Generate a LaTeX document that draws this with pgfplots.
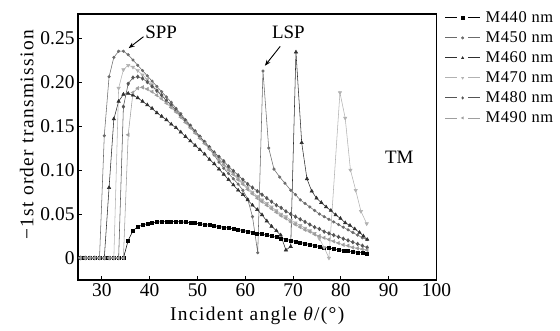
\documentclass[border=0pt]{standalone}
\usepackage{pgfplots}
\pgfplotsset{compat=1.18}
\usepackage{pgfplotstable}
\usepackage{fontspec}
\setmainfont{Liberation Serif}
\newfontfamily\lsfont[LetterSpace=7]{Liberation Serif}
\newfontfamily\legfont[LetterSpace=4]{Liberation Serif}
\usetikzlibrary{arrows.meta}
\definecolor{cA}{gray}{0.0}
\definecolor{cB}{gray}{0.42}
\definecolor{cC}{gray}{0.18}
\definecolor{cD}{gray}{0.70}
\definecolor{cE}{gray}{0.33}
\definecolor{cF}{gray}{0.62}

\pgfplotstableread{
x y
25.5 0
26.5 0
27.5 0
28.5 0
29.5 0
30.5 0
31.5 0
32.5 0
33.5 0
34.5 0
35.5 0.020
36.5 0.031
37.5 0.0355
38.5 0.0375
39.5 0.039
40.5 0.040
41.5 0.0408
42.5 0.0412
43.5 0.0414
44.5 0.0415
45.5 0.0414
46.5 0.0411
47.5 0.0407
48.5 0.0402
49.5 0.0396
50.5 0.0389
51.5 0.0381
52.5 0.0373
53.5 0.0365
54.5 0.0357
55.5 0.0349
56.5 0.0340
57.5 0.0331
58.5 0.0322
59.5 0.0312
60.5 0.0302
61.5 0.0292
62.5 0.0281
63.5 0.0270
64.5 0.0259
65.5 0.0248
66.5 0.0236
67.5 0.0224
68.5 0.0212
69.5 0.0200
70.5 0.0188
71.5 0.0176
72.5 0.0164
73.5 0.0153
74.5 0.0142
75.5 0.0131
76.5 0.0121
77.5 0.0112
78.5 0.0103
79.5 0.0095
80.5 0.0087
81.5 0.0079
82.5 0.0072
83.5 0.0065
84.5 0.0058
85.5 0.0050
}\tA

\pgfplotstableread{
x y
25.5 0
26.5 0
27.5 0
28.5 0
29.5 0
30.5 0.139
31.5 0.206
32.5 0.228
33.5 0.235
34.5 0.235
35.5 0.231
36.5 0.225
37.5 0.219
38.5 0.213
39.5 0.207
40.5 0.201
41.5 0.195
42.5 0.189
43.5 0.183
44.5 0.177
45.5 0.170
46.5 0.164
47.5 0.157
48.5 0.151
49.5 0.144
50.5 0.138
51.5 0.131
52.5 0.124
53.5 0.117
54.5 0.109
55.5 0.102
56.5 0.096
57.5 0.090
58.5 0.084
59.5 0.077
60.5 0.067
61.5 0.047
62.6 0.006
63.7 0.2125
64.9 0.125
66.0 0.101
67.2 0.092
68.3 0.085
69.5 0.077
70.5 0.072
71.5 0.066
72.5 0.062
73.5 0.058
74.5 0.054
75.5 0.050
76.5 0.047
77.5 0.044
78.5 0.041
79.5 0.038
80.5 0.035
81.5 0.032
82.5 0.029
83.5 0.026
84.5 0.023
85.5 0.021
}\tB

\pgfplotstableread{
x y
25.5 0
26.5 0
27.5 0
28.5 0
29.5 0
30.5 0
31.5 0.080
32.5 0.158
33.5 0.178
34.5 0.186
35.5 0.187
36.5 0.185
37.5 0.182
38.5 0.178
39.5 0.174
40.5 0.170
41.5 0.165
42.5 0.161
43.5 0.157
44.5 0.152
45.5 0.148
46.5 0.143
47.5 0.138
48.5 0.133
49.5 0.128
50.5 0.123
51.5 0.118
52.5 0.112
53.5 0.107
54.5 0.101
55.5 0.095
56.5 0.089
57.5 0.083
58.5 0.077
59.5 0.072
60.5 0.066
61.5 0.060
62.5 0.055
63.5 0.049
64.5 0.042
65.5 0.036
66.5 0.031
67.4 0.026
68.5 0.009
69.5 0.013
70.6 0.234
71.8 0.131
72.9 0.090
73.9 0.076
74.9 0.068
75.9 0.063
76.9 0.058
77.9 0.054
78.9 0.049
79.9 0.045
80.9 0.040
81.9 0.037
82.9 0.033
83.9 0.029
84.7 0.025
85.5 0.021
}\tC

\pgfplotstableread{
x y
25.5 0
26.5 0
27.5 0
28.5 0
29.5 0
30.5 0
31.5 0
32.5 0
33.5 0.193
34.5 0.214
35.5 0.219
36.5 0.217
37.5 0.213
38.5 0.208
39.5 0.203
40.5 0.197
41.5 0.191
42.5 0.185
43.5 0.179
44.5 0.173
45.5 0.167
46.5 0.161
47.5 0.155
48.5 0.149
49.5 0.143
50.5 0.137
51.5 0.131
52.5 0.125
53.5 0.119
54.5 0.113
55.5 0.107
56.5 0.102
57.5 0.096
58.5 0.091
59.5 0.085
60.5 0.080
61.5 0.075
62.5 0.070
63.5 0.066
64.5 0.062
65.5 0.058
66.5 0.054
67.5 0.050
68.5 0.047
69.5 0.043
70.5 0.040
71.5 0.037
72.5 0.034
73.5 0.031
74.5 0.028
75.5 0.022
76.5 0.012
77.5 0.000
79.8 0.188
80.9 0.159
82.0 0.100
83.1 0.077
84.2 0.053
85.4 0.039
}\tD

\pgfplotstableread{
x y
25.5 0
26.5 0
27.5 0
28.5 0
29.5 0
30.5 0
31.5 0
32.5 0
33.5 0
34.5 0.172
35.5 0.198
36.5 0.205
37.5 0.206
38.5 0.204
39.5 0.200
40.5 0.195
41.5 0.190
42.5 0.185
43.5 0.179
44.5 0.174
45.5 0.168
46.5 0.162
47.5 0.156
48.5 0.150
49.5 0.144
50.5 0.138
51.5 0.132
52.5 0.126
53.5 0.120
54.5 0.115
55.5 0.110
56.5 0.104
57.5 0.099
58.5 0.094
59.5 0.089
60.5 0.084
61.5 0.080
62.5 0.076
63.5 0.072
64.5 0.068
65.5 0.064
66.5 0.060
67.5 0.057
68.5 0.053
69.5 0.050
70.5 0.047
71.5 0.044
72.5 0.041
73.5 0.038
74.5 0.035
75.5 0.033
76.5 0.030
77.5 0.028
78.5 0.026
79.5 0.024
80.5 0.022
81.5 0.020
82.5 0.018
83.5 0.016
84.5 0.014
85.5 0.012
}\tE

\pgfplotstableread{
x y
25.5 0
26.5 0
27.5 0
28.5 0
29.5 0
30.5 0
31.5 0
32.5 0
33.5 0
34.5 0
35.5 0.140
36.5 0.188
37.5 0.193
38.5 0.194
39.5 0.192
40.5 0.189
41.5 0.185
42.5 0.181
43.5 0.176
44.5 0.171
45.5 0.166
46.5 0.160
47.5 0.154
48.5 0.148
49.5 0.142
50.5 0.136
51.5 0.130
52.5 0.124
53.5 0.118
54.5 0.112
55.5 0.106
56.5 0.100
57.5 0.095
58.5 0.089
59.5 0.084
60.5 0.078
61.5 0.073
62.5 0.068
63.5 0.064
64.5 0.060
65.5 0.056
66.5 0.052
67.5 0.048
68.5 0.045
69.5 0.041
70.5 0.038
71.5 0.035
72.5 0.032
73.5 0.030
74.5 0.027
75.5 0.025
76.5 0.023
77.5 0.021
78.5 0.019
79.5 0.017
80.5 0.015
81.5 0.014
82.5 0.012
83.5 0.011
84.5 0.010
85.5 0.009
}\tF

\pgfplotsset{
  mylegend/.style={legend image code/.code={
    \draw[##1,mark=none,line width=0.9bp] (0bp,0bp) -- (12bp,0bp) (23bp,0bp) -- (35bp,0bp);
    \draw[##1,only marks,mark size=1.2bp] plot coordinates {(17.5bp,0bp)};
  }},
}

\begin{document}
\begin{tikzpicture}
\useasboundingbox (-78bp,-51bp) rectangle (482bp,280bp);
\begin{axis}[
  scale only axis,
  width=358.5bp, height=266bp,
  xmin=25, xmax=100,
  ymin=-0.025, ymax=0.2773,
  xtick={30,40,50,60,70,80,90,100},
  ytick={0,0.05,0.10,0.15,0.20,0.25},
  yticklabels={0,0.05,0.10,0.15,0.20,0.25},
  xtick pos=left, ytick pos=left,
  tick align=inside,
  major tick length=4bp,
  tick style={black, line width=0.8bp},
  axis line style={line width=1.2bp},
  /pgf/number format/assume math mode=true,
  ticklabel style={font=\fontsize{19.5}{22}\selectfont},
  label style={font=\fontsize{19.5}{22}\selectfont},
  xlabel={\lsfont Incident angle \textit{θ}/(°)},
  ylabel={\lsfont −1st order transmission},
  xlabel style={yshift=-3bp},
  ylabel style={at={(ticklabel cs:0.545)}},
  legend style={at={(1,1)}, anchor=north west, xshift=8bp, yshift=4.5bp,
    draw=none, fill=none, inner sep=0pt,
    font=\legfont\fontsize{16.5}{18}\selectfont,
    row sep=3.6bp, column sep=3bp},
  legend cell align=left,
  mylegend,
  every axis plot/.append style={line width=0.55bp},
]
\addplot[cA, mark=square*, mark size=1.5bp] table[x=x,y=y]{\tA};
\addlegendentry{M440 nm}
\addplot[cB, mark=*, mark size=1.3bp] table[x=x,y=y]{\tB};
\addlegendentry{M450 nm}
\addplot[cC, mark=triangle*, mark size=1.9bp] table[x=x,y=y]{\tC};
\addlegendentry{M460 nm}
\addplot[cD, mark=triangle*, mark size=1.9bp, mark options={rotate=180}] table[x=x,y=y]{\tD};
\addlegendentry{M470 nm}
\addplot[cE, mark=diamond*, mark size=1.8bp] table[x=x,y=y]{\tE};
\addlegendentry{M480 nm}
\addplot[cF, mark=triangle*, mark size=1.9bp, mark options={rotate=90}] table[x=x,y=y]{\tF};
\addlegendentry{M490 nm}
\node[font=\fontsize{19}{21}\selectfont] at (axis cs:92.2,0.114) {TM};
\node[font=\fontsize{19}{21}\selectfont] at (axis cs:42.4,0.257) {SPP};
\node[font=\fontsize{19}{21}\selectfont] at (axis cs:69,0.256) {LSP};
\draw[-{Stealth[length=6bp,width=4.5bp]}, line width=0.9bp] (axis cs:38.7,0.2515) -- (axis cs:35.6,0.2385);
\draw[-{Stealth[length=6bp,width=4.5bp]}, line width=0.9bp] (axis cs:67.3,0.2405) -- (axis cs:64.1,0.2185);
\end{axis}
\end{tikzpicture}
\end{document}
